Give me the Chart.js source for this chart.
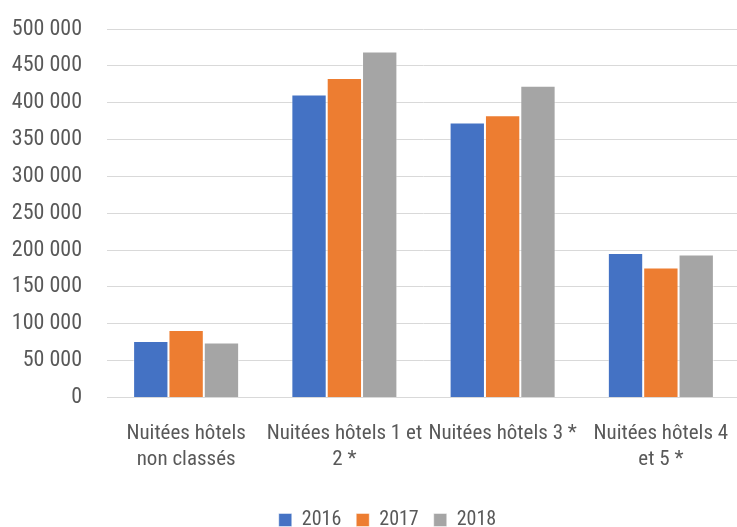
<!DOCTYPE html>
<html>
<head>
<meta charset="utf-8">
<script src="https://cdn.jsdelivr.net/npm/chart.js@4"></script>
<style>
  html, body { margin: 0; padding: 0; background: #fff; overflow: hidden; }
  #wrap { position: absolute; left: 0; top: 0; width: 740px; height: 540px; }
</style>
</head>
<body>
<div id="wrap"><canvas id="chart" width="740" height="540"></canvas></div>
<script>
const categories = [
  ["Nuitées hôtels", "non classés"],
  ["Nuitées hôtels 1 et", "2 *"],
  ["Nuitées hôtels 3 *"],
  ["Nuitées hôtels 4", "et 5 *"]
];
const years = ["2016", "2017", "2018"];
const values2016 = [76500, 411000, 373000, 196000];
const values2017 = [91500, 433500, 383000, 176500];
const values2018 = [74500, 469500, 423000, 194000];
const colors = ["#4472C4", "#ED7D31", "#A5A5A5"];

const textColor = "#595959";
const gridColor = "#D9D9D9";
Chart.defaults.font.family = '"Roboto Condensed", "Liberation Sans Narrow", "Liberation Sans", Arial, sans-serif';
Chart.defaults.color = textColor;

// push the legend a bit to the right, like in the original
const shiftLegend = {
  id: "shiftLegend",
  afterLayout(chart) {
    const lg = chart.legend;
    if (lg) { lg.left += 15; lg.right += 15; }
  }
};

function thousands(v) {
  return String(v).replace(/\B(?=(\d{3})+(?!\d))/g, " ");
}

new Chart(document.getElementById("chart"), {
  type: "bar",
  data: {
    labels: categories,
    datasets: [
      { label: years[0], data: values2016, backgroundColor: colors[0] },
      { label: years[1], data: values2017, backgroundColor: colors[1] },
      { label: years[2], data: values2018, backgroundColor: colors[2] }
    ]
  },
  options: {
    responsive: false,
    animation: false,
    layout: { padding: { top: 29, left: 5, right: 0, bottom: 0 } },
    datasets: {
      bar: {
        categoryPercentage: 0.67,
        barPercentage: 1.0,
        borderWidth: 1,
        borderColor: "rgba(255,255,255,0.45)"
      }
    },
    scales: {
      x: {
        grid: { display: false },
        border: { color: gridColor, width: 1 },
        ticks: {
          color: textColor,
          font: { size: 21, lineHeight: 1.24 },
          padding: 15,
          maxRotation: 0,
          autoSkip: false
        },
        afterFit: s => { s.height = 97.5; s.paddingLeft = 0; s.paddingRight = 0; }
      },
      y: {
        min: 0,
        max: 500000,
        grid: { color: gridColor, lineWidth: 1, drawTicks: false },
        border: { display: false },
        ticks: {
          stepSize: 50000,
          color: textColor,
          font: { size: 22 },
          padding: 25,
          callback: v => thousands(v)
        },
        afterFit: s => { s.width = 102; s.paddingTop = 0; s.paddingBottom = 0; }
      }
    },
    plugins: {
      legend: {
        position: "bottom",
        labels: {
          boxWidth: 13,
          boxHeight: 13,
          padding: 15,
          color: textColor,
          font: { size: 20 }
        }
      },
      tooltip: { enabled: false }
    }
  },
  plugins: [shiftLegend]
});
</script>
</body>
</html>
